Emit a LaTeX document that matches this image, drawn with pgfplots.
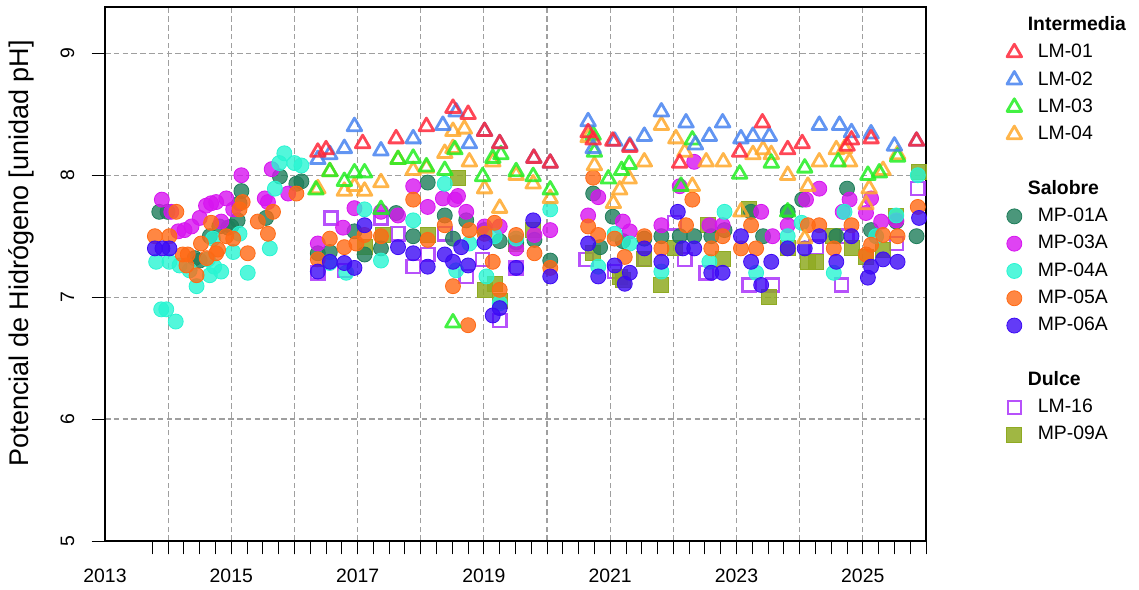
\documentclass[border=0pt]{standalone}
\usepackage{fontspec}
\setmainfont{Liberation Sans}
\usepackage{pgfplots}
\pgfplotsset{compat=1.18}
\definecolor{cLMa}{RGB}{255,38,56}
\definecolor{cLMb}{RGB}{70,130,240}
\definecolor{cLMc}{RGB}{34,238,34}
\definecolor{cLMd}{RGB}{255,168,42}
\definecolor{cMPa}{RGB}{30,125,90}
\definecolor{cMPc}{RGB}{215,20,240}
\definecolor{cMPd}{RGB}{40,245,210}
\definecolor{cMPe}{RGB}{255,105,20}
\definecolor{cMPf}{RGB}{60,10,245}
\definecolor{cLMp}{RGB}{170,50,250}
\definecolor{cMPi}{RGB}{143,170,34}
\pgfplotsset{
  tri/.style={only marks, color=#1, mark=triangle, mark size=4.2pt, line width=1.4pt,
    mark options={solid, line join=round, draw=#1, draw opacity=0.85}},
  cir/.style={only marks, color=#1, mark=*, mark size=3.75pt,
    mark options={draw=none, fill=#1, fill opacity=0.8}},
  osq/.style={only marks, color=#1, mark=square, mark size=3.3pt, line width=1.2pt,
    mark options={solid, draw=#1, draw opacity=0.85}},
  fsq/.style={only marks, color=#1, mark=square*, mark size=3.75pt,
    mark options={draw=none, fill=#1, fill opacity=0.85}},
}
\begin{document}
\fontsize{9.7pt}{11.6pt}\selectfont
\begin{tikzpicture}
\path[use as bounding box] (-52.5pt,-24pt) rectangle (517pt,270.5pt);
\begin{axis}[
  scale only axis, width=410.5pt, height=267pt,
  at={(0,0)}, anchor=south west,
  xmin=2013, xmax=2026, ymin=5, ymax=9.38,
  clip=false,
  axis line style={line width=0.7pt},
  xtick={2014,...,2025},
  xticklabels={,2015,,2017,,2019,,2021,,2023,,2025},
  minor xtick={2013.75,2014,...,2026},
  extra x ticks={2013}, extra x tick labels={2013},
  extra x tick style={major tick length=0pt, grid=none, xticklabel style={yshift=-6.7pt}},
  ytick={5,6,7,8,9}, yticklabels={5,6,7,8,9},
  tick align=outside, tick pos=left,
  major tick length=6.7pt, minor tick length=6.7pt,
  tick style={black, line width=0.5pt},
  xmajorgrids, ymajorgrids,
  major grid style={dash pattern=on 2.8pt off 1.6pt, color=gray!75, line width=0.6pt},
  xticklabel style={anchor=base, yshift=-13.8pt},
  yticklabel style={xshift=-8.8pt, rotate=90, anchor=base},
  ylabel={Potencial de Hidrógeno [unidad pH]},
  ylabel style={at={(axis description cs:-0.1023,0.539)}, anchor=center,
    font=\fontsize{13.5pt}{16pt}\selectfont},
  legend style={at={(1.079,0.995)}, anchor=north west, draw=none, fill=none,
    font=\fontsize{9.7pt}{11pt}\selectfont, row sep=2.45pt, column sep=7pt,
    nodes={inner sep=1pt, text height=7.2pt, text depth=2pt}},
  legend cell align=left,
]
% ---------- Dulce ----------
\addplot[osq=cLMp, forget plot] coordinates {
(2016.37,7.20) (2016.58,7.65) (2016.79,7.22) (2017.37,7.65) (2017.64,7.52)
(2017.88,7.25) (2018.11,7.35) (2018.38,7.52) (2018.72,7.17) (2018.98,7.31)
(2019.25,6.81) (2019.51,7.24) (2020.62,7.31) (2021.07,7.21) (2021.54,7.31)
(2022.02,7.61) (2022.18,7.31) (2022.52,7.20) (2023.20,7.10) (2023.57,7.10)
(2024.26,7.41) (2024.66,7.10) (2024.75,7.50) (2025.53,7.44) (2025.87,7.89)
};
\addplot[fsq=cMPi, forget plot] coordinates {
(2017.11,7.41) (2017.40,7.51) (2018.11,7.51) (2018.59,7.98) (2019.01,7.06)
(2019.17,7.11) (2019.25,6.97) (2019.51,7.44) (2019.78,7.55) (2020.73,7.36)
(2021.15,7.17) (2021.20,7.14) (2021.54,7.31) (2021.81,7.10) (2022.02,7.40)
(2022.55,7.59) (2022.78,7.31) (2023.20,7.72) (2023.52,7.00) (2023.81,7.40)
(2024.13,7.29) (2024.26,7.29) (2024.52,7.50) (2024.82,7.40) (2025.05,7.33)
(2025.32,7.39) (2025.53,7.67) (2025.89,8.03)
};
% ---------- Salobre ----------
\addplot[cir=cMPa, forget plot] coordinates {
(2013.86,7.70) (2013.99,7.70) (2014.42,7.32) (2014.50,7.30) (2014.66,7.50)
(2014.81,7.58) (2014.95,7.57) (2015.00,7.58) (2015.10,7.63) (2015.13,7.77)
(2015.16,7.87) (2015.55,7.65) (2015.77,7.99) (2016.03,7.93) (2016.11,7.95)
(2016.37,7.36) (2016.56,7.37) (2016.95,7.54) (2017.11,7.35) (2017.37,7.40)
(2017.61,7.69) (2017.88,7.50) (2018.11,7.94) (2018.38,7.67) (2018.51,7.48)
(2018.72,7.63) (2019.01,7.55) (2019.25,7.46) (2019.51,7.45) (2019.80,7.47)
(2020.05,7.30) (2020.73,7.85) (2020.84,7.41) (2021.04,7.66) (2021.20,7.46)
(2021.54,7.48) (2021.81,7.50) (2022.10,7.50) (2022.33,7.50) (2022.60,7.50)
(2022.81,7.55) (2023.23,7.70) (2023.42,7.50) (2023.81,7.70) (2024.04,7.80)
(2024.58,7.50) (2024.75,7.89) (2025.13,7.55) (2025.53,7.62) (2025.85,7.50)
};
\addplot[cir=cMPc, forget plot] coordinates {
(2013.90,7.80) (2014.05,7.70) (2014.16,7.54) (2014.26,7.55) (2014.37,7.58)
(2014.50,7.65) (2014.60,7.75) (2014.68,7.77) (2014.76,7.78) (2014.84,7.62)
(2014.92,7.81) (2015.03,7.72) (2015.16,8.00) (2015.53,7.81) (2015.58,7.78)
(2015.64,8.05) (2015.90,7.85) (2016.37,7.44) (2016.77,7.57) (2016.95,7.73)
(2017.37,7.70) (2017.64,7.67) (2017.88,7.91) (2018.11,7.74) (2018.35,7.81)
(2018.54,7.80) (2018.59,7.83) (2018.72,7.70) (2019.01,7.58) (2019.25,7.58)
(2019.51,7.40) (2019.80,7.51) (2020.05,7.55) (2020.65,7.67) (2020.81,7.82)
(2021.20,7.62) (2021.31,7.54) (2021.81,7.59) (2022.10,7.91) (2022.33,8.11)
(2022.57,7.59) (2022.78,7.59) (2023.39,7.70) (2023.57,7.50) (2023.81,7.59)
(2024.10,7.80) (2024.31,7.89) (2024.68,7.70) (2024.79,7.80) (2025.05,7.69)
(2025.13,7.81) (2025.29,7.62) (2025.53,7.63)
};
\addplot[cir=cMPd, forget plot] coordinates {
(2013.81,7.29) (2014.02,7.29) (2013.89,6.90) (2013.97,6.90) (2014.12,6.80)
(2014.18,7.26) (2014.34,7.22) (2014.45,7.09) (2014.63,7.31) (2014.66,7.18)
(2014.71,7.48) (2014.73,7.25) (2014.84,7.21) (2015.03,7.37) (2015.13,7.52)
(2015.26,7.20) (2015.61,7.40) (2015.69,7.89) (2015.76,8.10) (2015.84,8.18)
(2016.00,8.10) (2016.11,8.08) (2016.56,7.28) (2016.82,7.20) (2017.11,7.72)
(2017.37,7.30) (2017.88,7.63) (2018.38,7.93) (2018.56,7.22) (2018.77,7.44)
(2019.04,7.17) (2019.17,7.50) (2019.25,6.95) (2019.51,7.48) (2020.05,7.72)
(2020.81,7.25) (2021.07,7.52) (2021.31,7.44) (2021.81,7.21) (2022.57,7.29)
(2022.81,7.70) (2023.31,7.20) (2023.81,7.50) (2024.03,7.61) (2024.54,7.20)
(2024.71,7.70) (2025.21,7.50) (2025.53,7.67) (2025.87,8.00)
};
\addplot[cir=cMPe, forget plot] coordinates {
(2013.79,7.50) (2014.02,7.50) (2014.13,7.70) (2014.23,7.35) (2014.29,7.26)
(2014.31,7.35) (2014.45,7.18) (2014.52,7.44) (2014.61,7.32) (2014.68,7.61)
(2014.76,7.36) (2014.79,7.39) (2014.92,7.50) (2015.03,7.48) (2015.13,7.72)
(2015.18,7.78) (2015.26,7.36) (2015.42,7.62) (2015.58,7.52) (2015.66,7.70)
(2016.03,7.85) (2016.37,7.31) (2016.56,7.48) (2016.79,7.41) (2016.98,7.44)
(2017.11,7.51) (2017.37,7.50) (2017.88,7.80) (2018.11,7.47) (2018.38,7.59)
(2018.51,7.09) (2018.75,6.77) (2018.77,7.55) (2019.01,7.52) (2019.14,7.29)
(2019.17,7.61) (2019.25,7.06) (2019.51,7.51) (2019.80,7.36) (2020.05,7.24)
(2020.65,7.58) (2020.73,7.98) (2020.81,7.51) (2021.07,7.48) (2021.23,7.33)
(2021.54,7.50) (2021.81,7.40) (2022.20,7.59) (2022.30,7.80) (2022.60,7.40)
(2022.78,7.50) (2023.07,7.40) (2023.23,7.59) (2023.31,7.40) (2024.13,7.59)
(2024.31,7.59) (2024.54,7.40) (2024.82,7.59) (2025.05,7.35) (2025.13,7.43)
(2025.32,7.51) (2025.55,7.50) (2025.87,7.74)
};
\addplot[cir=cMPf, forget plot] coordinates {
(2013.79,7.40) (2013.91,7.40) (2014.02,7.40)
(2016.37,7.21) (2016.56,7.29) (2016.79,7.28) (2016.95,7.24) (2017.11,7.59)
(2017.64,7.41) (2017.88,7.36) (2018.11,7.25) (2018.38,7.35) (2018.51,7.29)
(2018.64,7.41) (2018.75,7.26) (2019.01,7.45) (2019.14,6.85) (2019.25,6.91)
(2019.51,7.24) (2019.78,7.63) (2020.05,7.17) (2020.65,7.44) (2020.81,7.17)
(2021.07,7.26) (2021.23,7.11) (2021.31,7.20) (2021.54,7.40) (2021.81,7.29)
(2022.07,7.70) (2022.15,7.40) (2022.33,7.40) (2022.60,7.20) (2022.78,7.20)
(2023.07,7.50) (2023.23,7.29) (2023.39,7.10) (2023.55,7.29) (2023.81,7.40)
(2024.08,7.40) (2024.31,7.50) (2024.58,7.29) (2024.82,7.50) (2025.08,7.16)
(2025.13,7.25) (2025.32,7.31) (2025.55,7.29) (2025.89,7.65)
};
% ---------- Intermedia ----------
\addplot[tri=cLMd, forget plot] coordinates {
(2016.37,7.89) (2016.56,8.03) (2016.79,7.87) (2016.95,7.91) (2017.11,7.87)
(2017.37,7.94) (2017.64,8.13) (2017.88,8.04) (2018.09,8.06) (2018.38,8.18)
(2018.51,8.22) (2018.51,8.36) (2018.69,8.38) (2018.77,8.11) (2019.01,7.89)
(2019.14,8.11) (2019.25,7.73) (2019.51,8.00) (2019.78,7.93) (2020.05,7.81)
(2020.65,8.31) (2020.75,8.08) (2021.05,7.77) (2021.15,7.88) (2021.30,7.97)
(2021.54,8.11) (2021.81,8.41) (2022.04,8.30) (2022.18,8.19) (2022.30,7.91)
(2022.52,8.11) (2022.79,8.11) (2023.07,7.70) (2023.26,8.17) (2023.42,8.21)
(2023.55,8.17) (2023.81,8.00) (2024.08,7.48) (2024.13,7.91) (2024.31,8.11)
(2024.58,8.21) (2024.71,8.22) (2024.79,8.11) (2025.05,7.76) (2025.10,7.89)
(2025.32,8.04) (2025.55,8.17)
};
\addplot[tri=cLMc, forget plot] coordinates {
(2016.34,7.88) (2016.56,8.03) (2016.79,7.95) (2016.95,8.02) (2017.11,8.02)
(2017.37,7.72) (2017.64,8.13) (2017.88,8.14) (2018.09,8.07) (2018.38,8.04)
(2018.51,6.79) (2018.54,8.21) (2018.98,7.99) (2019.14,8.14) (2019.27,8.17)
(2019.51,8.03) (2019.78,7.99) (2020.05,7.88) (2020.73,8.33) (2020.75,8.19)
(2020.97,7.97) (2021.18,8.04) (2021.30,8.09) (2022.12,7.91) (2022.30,8.29)
(2023.05,8.01) (2023.55,8.10) (2023.81,7.70) (2024.08,8.06) (2024.61,8.11)
(2025.08,8.00) (2025.26,8.02) (2025.55,8.15)
};
\addplot[tri=cLMb, forget plot] coordinates {
(2016.37,8.13) (2016.56,8.17) (2016.79,8.22) (2016.95,8.40) (2017.37,8.20)
(2017.88,8.30) (2018.35,8.41) (2018.56,8.52) (2018.77,8.26) (2019.01,8.36)
(2019.25,8.26) (2019.79,8.14) (2020.05,8.10) (2020.65,8.44) (2020.73,8.22)
(2021.07,8.28) (2021.31,8.24) (2021.54,8.32) (2021.81,8.52) (2022.20,8.43)
(2022.35,8.25) (2022.57,8.32) (2022.78,8.43) (2023.07,8.30) (2023.26,8.32)
(2023.52,8.32) (2024.31,8.41) (2024.63,8.41) (2024.82,8.35) (2025.13,8.34)
(2025.50,8.24) (2025.85,8.28)
};
\addplot[tri=cLMa, forget plot] coordinates {
(2016.37,8.19) (2016.50,8.21) (2017.08,8.26) (2017.61,8.30) (2018.09,8.40)
(2018.51,8.55) (2018.75,8.50) (2019.01,8.36) (2019.25,8.26) (2019.79,8.14)
(2020.05,8.10) (2020.65,8.35) (2020.73,8.29) (2021.04,8.28) (2021.31,8.23)
(2022.10,8.10) (2023.05,8.19) (2023.41,8.43) (2023.81,8.21) (2024.04,8.26)
(2024.75,8.24) (2024.82,8.29) (2025.13,8.30) (2025.85,8.28)
};
% ---------- legend ----------
\addlegendimage{empty legend}\addlegendentry{\hspace*{-5pt}\textbf{Intermedia}}
\addlegendimage{tri=cLMa}\addlegendentry{LM-01}
\addlegendimage{tri=cLMb}\addlegendentry{LM-02}
\addlegendimage{tri=cLMc}\addlegendentry{LM-03}
\addlegendimage{tri=cLMd}\addlegendentry{LM-04}
\addlegendimage{empty legend}\addlegendentry{}
\addlegendimage{empty legend}\addlegendentry{\hspace*{-5pt}\textbf{Salobre}}
\addlegendimage{cir=cMPa}\addlegendentry{MP-01A}
\addlegendimage{cir=cMPc}\addlegendentry{MP-03A}
\addlegendimage{cir=cMPd}\addlegendentry{MP-04A}
\addlegendimage{cir=cMPe}\addlegendentry{MP-05A}
\addlegendimage{cir=cMPf}\addlegendentry{MP-06A}
\addlegendimage{empty legend}\addlegendentry{}
\addlegendimage{empty legend}\addlegendentry{\hspace*{-5pt}\textbf{Dulce}}
\addlegendimage{osq=cLMp}\addlegendentry{LM-16}
\addlegendimage{fsq=cMPi}\addlegendentry{MP-09A}
\end{axis}
\end{tikzpicture}
\end{document}
